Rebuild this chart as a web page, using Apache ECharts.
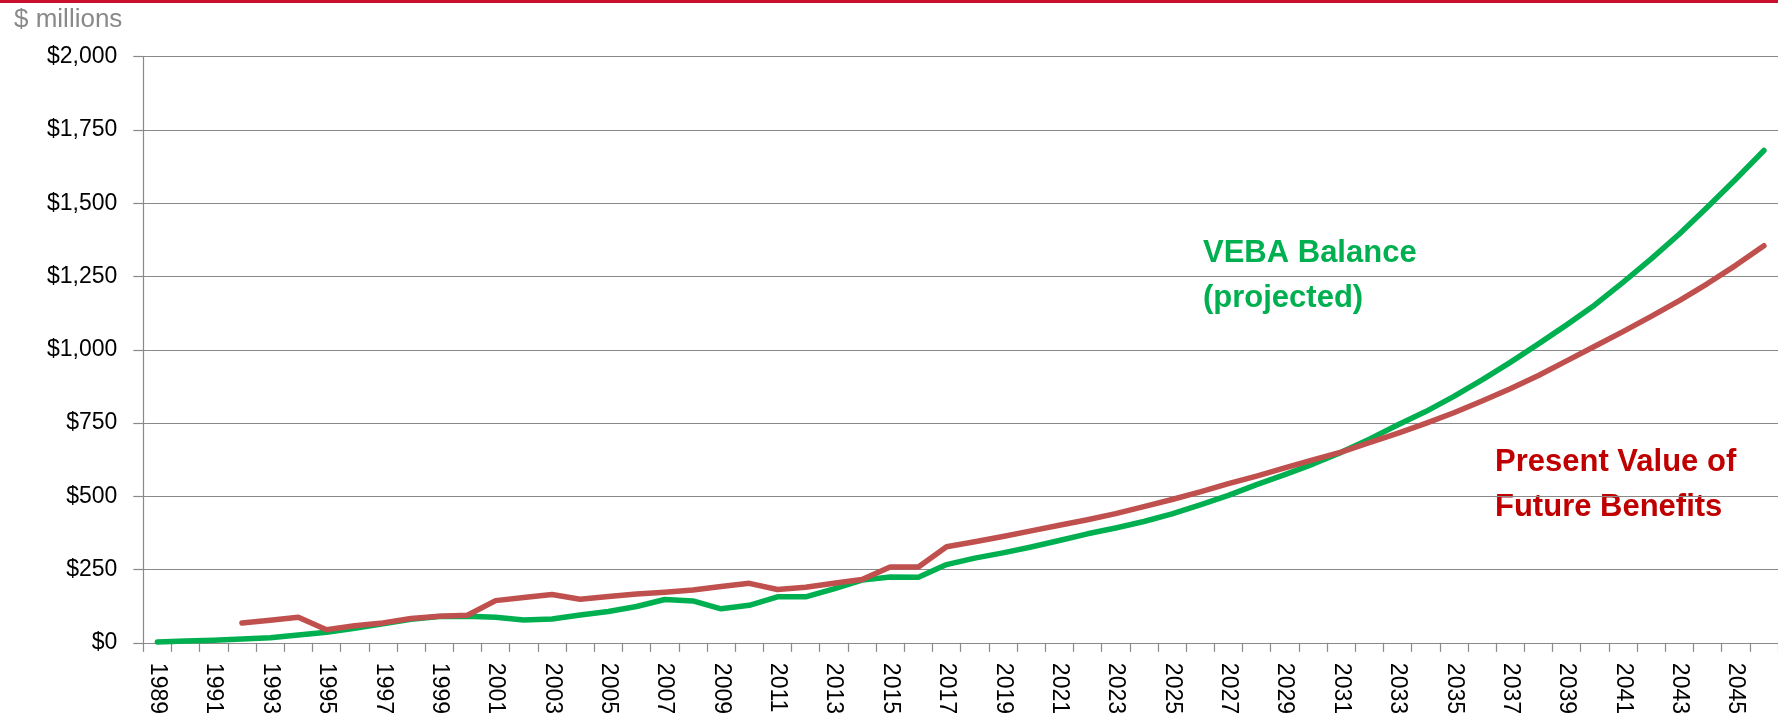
<!DOCTYPE html>
<html>
<head>
<meta charset="utf-8">
<script src="https://cdn.jsdelivr.net/npm/echarts@6/dist/echarts.min.js"></script>
<style>
  html, body { margin: 0; padding: 0; background: #fff; }
  #chart { width: 1778px; height: 717px; }
</style>
</head>
<body>
<div id="chart"></div>
<script>
// ---- data ----
const years = [];
for (let y = 1989; y <= 2046; y++) years.push(String(y));

const vebaBalance = [
  3, 6, 9, 13, 17, 27, 36, 50, 65, 80,
  90, 91, 87, 78, 81, 95, 107, 124, 148, 143,
  116, 128, 157, 157, 184, 214, 225, 224, 267, 289,
  307, 327, 349, 372, 392, 414, 440, 471, 503, 540,
  574, 610, 650, 695, 743, 789, 841, 897, 957, 1020,
  1085, 1153, 1230, 1310, 1395, 1487, 1582, 1680
];

const presentValueFutureBenefits = [
  null, null, null, 68, 77, 87, 45, 58, 68, 83,
  91, 94, 144, 155, 165, 149, 158, 167, 173, 180,
  192, 203, 182, 190, 203, 216, 259, 259, 328, 345,
  363, 382, 401, 420, 441, 465, 489, 515, 543, 569,
  597, 624, 651, 683, 715, 749, 785, 825, 867, 912,
  962, 1012, 1062, 1114, 1168, 1226, 1288, 1355
];

const yTicks = { min: 0, max: 2000, interval: 250 };

// ---- chart ----
const FONT = "'Liberation Sans', Arial, sans-serif";
const GRAY = '#898989';
const chart = echarts.init(document.getElementById('chart'), null, { renderer: 'canvas' });

function money(v) {
  return '$' + String(v).replace(/\B(?=(\d{3})+(?!\d))/g, ',');
}

chart.setOption({
  animation: false,
  backgroundColor: '#ffffff',
  grid: { left: 143.3, top: 56.7, bottom: 73.7, right: -8.6, containLabel: false },
  xAxis: {
    type: 'category',
    data: years,
    boundaryGap: true,
    axisLine: { show: true, lineStyle: { color: GRAY, width: 1.2 } },
    axisTick: { show: true, interval: 0, length: 9, lineStyle: { color: GRAY, width: 1.2 } },
    axisLabel: {
      interval: 1, rotate: -90, margin: 20,
      fontSize: 23, color: '#000', fontFamily: FONT
    },
    splitLine: { show: false }
  },
  yAxis: {
    type: 'value',
    min: yTicks.min, max: yTicks.max, interval: yTicks.interval,
    axisLine: { show: true, lineStyle: { color: GRAY, width: 1.2 } },
    axisTick: { show: true, length: 10, lineStyle: { color: GRAY, width: 1.2 } },
    axisLabel: {
      margin: 26, fontSize: 23, color: '#000', fontFamily: FONT,
      formatter: money
    },
    splitLine: { show: true, lineStyle: { color: GRAY, width: 1.2 } }
  },
  series: [
    {
      name: 'VEBA Balance (projected)',
      type: 'line',
      data: vebaBalance,
      showSymbol: false,
      symbol: 'none',
      lineStyle: { color: '#00b050', width: 5.5, cap: 'round', join: 'round' },
      itemStyle: { color: '#00b050' },
      z: 2
    },
    {
      name: 'Present Value of Future Benefits',
      type: 'line',
      data: presentValueFutureBenefits,
      showSymbol: false,
      symbol: 'none',
      lineStyle: { color: '#c0504d', width: 5.5, cap: 'round', join: 'round' },
      itemStyle: { color: '#c0504d' },
      z: 3
    }
  ],
  graphic: [
    { type: 'rect', left: 0, top: 0, shape: { width: 1778, height: 3 }, style: { fill: '#c8102e' }, silent: true },
    { type: 'text', x: 14, y: 20, style: { text: '$ millions', font: "26px " + FONT, fill: '#898989', verticalAlign: 'middle', align: 'left' } },
    { type: 'text', x: 1203, y: 253, style: { text: 'VEBA Balance', font: "bold 31px " + FONT, fill: '#00b050', verticalAlign: 'middle', align: 'left' } },
    { type: 'text', x: 1203, y: 298, style: { text: '(projected)', font: "bold 31px " + FONT, fill: '#00b050', verticalAlign: 'middle', align: 'left' } },
    { type: 'text', x: 1495, y: 462, style: { text: 'Present Value of', font: "bold 31px " + FONT, fill: '#c00000', verticalAlign: 'middle', align: 'left' } },
    { type: 'text', x: 1495, y: 507, style: { text: 'Future Benefits', font: "bold 31px " + FONT, fill: '#c00000', verticalAlign: 'middle', align: 'left' } }
  ]
});
</script>
</body>
</html>
